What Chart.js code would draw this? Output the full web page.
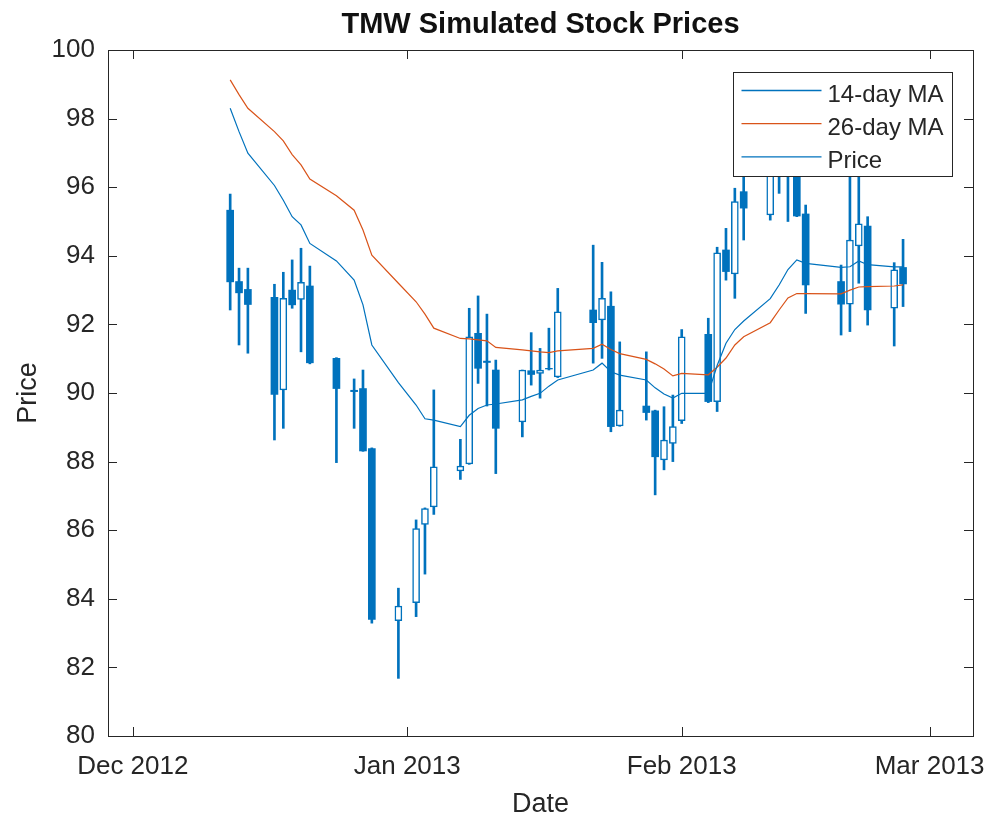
<!DOCTYPE html>
<html>
<head>
<meta charset="utf-8">
<title>TMW Simulated Stock Prices</title>
<script src="https://cdn.jsdelivr.net/npm/chart.js@4.4.1/dist/chart.umd.min.js"></script>
<style>
  html, body { margin: 0; background: #fff; }
  canvas { display: block; }
</style>
</head>
<body>
<canvas id="chart-candles" width="991" height="816"></canvas>
<script>
// ---- Data ----
const tradeDates = [
  '2012-12-12', '2012-12-13', '2012-12-14', '2012-12-17', '2012-12-18', '2012-12-19', '2012-12-20',
  '2012-12-21', '2012-12-24', '2012-12-26', '2012-12-27', '2012-12-28', '2012-12-31',
  '2013-01-02', '2013-01-03', '2013-01-04', '2013-01-07', '2013-01-08', '2013-01-09', '2013-01-10',
  '2013-01-11', '2013-01-14', '2013-01-15', '2013-01-16', '2013-01-17', '2013-01-18', '2013-01-22',
  '2013-01-23', '2013-01-24', '2013-01-25', '2013-01-28', '2013-01-29', '2013-01-30', '2013-01-31',
  '2013-02-01', '2013-02-04', '2013-02-05', '2013-02-06', '2013-02-07', '2013-02-08', '2013-02-11',
  '2013-02-12', '2013-02-13', '2013-02-14', '2013-02-15', '2013-02-19', '2013-02-20', '2013-02-21',
  '2013-02-22', '2013-02-25', '2013-02-26',
];

const openP = [
  95.33, 93.25, 93.02, 92.79, 90.09, 93.00, 92.73, 93.12, 91.01, 90.08, 90.13, 88.38, 83.36,
  83.89, 86.17, 86.68, 87.73, 87.93, 91.74, 90.93, 90.67, 89.16, 90.65, 90.57, 90.72, 90.47, 92.42,
  92.13, 92.53, 89.04, 89.62, 89.48, 88.05, 88.53,
  89.19, 91.71, 89.75, 94.17, 93.47, 95.87, 95.19, 96.50, 97.20, 96.90, 95.22, 93.25, 92.59, 94.29,
  94.87, 92.47, 93.66,
];
const highP = [
  95.80, 93.64, 93.64, 93.17, 93.52, 93.88, 94.22, 93.70, 91.03, 90.41, 90.67, 88.40, 84.31,
  86.30, 86.65, 90.09, 88.65, 92.47, 92.83, 92.30, 90.96, 90.67, 91.76, 91.30, 91.89, 93.05, 94.31,
  93.81, 92.95, 91.49, 91.20, 89.50, 89.60, 89.94,
  91.85, 92.18, 94.25, 94.80, 95.97, 96.60, 97.30, 97.60, 97.60, 97.20, 95.48, 93.73, 96.70, 96.80,
  95.14, 93.80, 94.48,
];
const lowP = [
  92.42, 91.40, 91.16, 88.63, 88.97, 92.47, 91.20, 90.85, 87.97, 88.97, 88.30, 83.29, 81.68,
  83.48, 84.72, 86.46, 87.48, 87.92, 90.28, 89.62, 87.65, 88.72, 90.23, 89.85, 90.67, 90.45, 90.87,
  91.01, 88.87, 89.03, 89.21, 87.03, 87.76, 88.00,
  89.11, 89.72, 89.46, 93.29, 92.76, 94.46, 95.04, 95.82, 95.00, 95.14, 92.32, 91.69, 91.79, 93.20,
  91.98, 91.37, 92.52,
];
const closeP = [
  93.24, 92.92, 92.58, 89.96, 92.76, 92.57, 93.23, 90.88, 90.13, 90.04, 88.31, 83.40, 83.79,
  86.05, 86.63, 87.85, 87.87, 91.64, 90.72, 90.89, 88.97, 90.67, 90.54, 90.67, 90.70, 92.37, 92.05,
  92.76, 89.02, 89.50, 89.43, 88.14, 88.63, 89.02,
  91.64, 89.75, 94.09, 93.54, 95.58, 95.39, 96.90, 97.10, 96.70, 95.16, 93.15, 92.59, 94.46, 94.93,
  92.42, 93.59, 93.18,
];

const ma14 = [
  98.30, 97.62, 96.99, 96.05, 95.62, 95.14, 94.90, 94.36, 93.85, 93.29, 92.57, 91.40, 90.30,
  89.65, 89.25, 89.21, 89.02, 89.35, 89.55, 89.65, 89.68, 89.80, 89.90, 89.99, 90.20, 90.38, 90.67,
  90.87, 90.62, 90.52, 90.38, 90.15, 89.97, 89.85,
  89.99, 89.99, 90.80, 91.45, 91.85, 92.10, 92.75, 93.15, 93.60, 93.88, 93.78, 93.66, 93.68, 93.85,
  93.74, 93.68, 93.68,
];
const ma26 = [
  99.13, 98.70, 98.30, 97.62, 97.35, 96.95, 96.65, 96.24, 95.75, 95.33, 94.75, 94.02, 93.20,
  92.66, 92.30, 91.89, 91.59, 91.58, 91.55, 91.52, 91.33, 91.26, 91.23, 91.20, 91.18, 91.23, 91.30,
  91.42, 91.27, 91.15, 90.98, 90.85, 90.70, 90.50,
  90.57, 90.53, 90.75, 91.02, 91.40, 91.64, 92.05, 92.42, 92.77, 92.90, 92.90, 92.89, 93.00, 93.09,
  93.10, 93.12, 93.15,
];

const seriesNames = ['14-day MA', '26-day MA', 'Price'];
const tickDates = ['2012-12-01', '2013-01-01', '2013-02-01', '2013-03-01'];
const tickLabels = ['Dec 2012', 'Jan 2013', 'Feb 2013', 'Mar 2013'];
const yTicks = [80, 82, 84, 86, 88, 90, 92, 94, 96, 98, 100];

// ---- Helpers ----
const BLUE = '#0072BD';
const ORANGE = '#D95319';
const INK = '#262626';
const FONT = '"Liberation Sans", Arial, Helvetica, sans-serif';

// dates become day numbers counted from 1 Dec 2012, so a linear axis can place them
const ORIGIN = Date.UTC(2012, 11, 1);
function dayNum(s) {
  const [y, m, d] = s.split('-').map(Number);
  return (Date.UTC(y, m - 1, d) - ORIGIN) / 86400000;
}

const xs = tradeDates.map(dayNum);
const tickDays = tickDates.map(dayNum);

const wicks = xs.map((x, i) => ({ x, y: [lowP[i], highP[i]] }));
const downBodies = [];
const upBodies = [];
xs.forEach((x, i) => {
  const body = { x, y: [openP[i], closeP[i]] };
  if (closeP[i] < openP[i]) downBodies.push(body);
  else upBodies.push(body);
});

// inward tick marks and the box round the axes
const axesFrame = {
  id: 'axesFrame',
  afterDraw(chart) {
    const { ctx, chartArea: a, scales } = chart;
    const len = 9;
    ctx.save();
    ctx.strokeStyle = INK;
    ctx.lineWidth = 1;
    ctx.beginPath();
    scales.x.ticks.forEach((t) => {
      const px = Math.round(scales.x.getPixelForValue(t.value)) + 0.5;
      ctx.moveTo(px, a.bottom); ctx.lineTo(px, a.bottom - len);
      ctx.moveTo(px, a.top); ctx.lineTo(px, a.top + len);
    });
    scales.y.ticks.forEach((t) => {
      const py = Math.round(scales.y.getPixelForValue(t.value)) + 0.5;
      ctx.moveTo(a.left, py); ctx.lineTo(a.left + len, py);
      ctx.moveTo(a.right, py); ctx.lineTo(a.right - len, py);
    });
    ctx.stroke();
    ctx.strokeRect(Math.round(a.left) + 0.5, Math.round(a.top) + 0.5,
      Math.round(a.right - a.left), Math.round(a.bottom - a.top));
    ctx.restore();
  },
};

// boxed legend in the upper right, drawn over the candles
const boxLegend = {
  id: 'boxLegend',
  afterDatasetsDraw(chart) {
    const { ctx, chartArea: a } = chart;
    const colors = [BLUE, ORANGE, BLUE];
    const w = 219, h = 104;
    const left = Math.round(a.right - 21 - w) + 0.5;
    const top = Math.round(a.top + 22) + 0.5;
    ctx.save();
    ctx.fillStyle = '#fff';
    ctx.fillRect(left, top, w, h);
    ctx.strokeStyle = INK;
    ctx.lineWidth = 1;
    ctx.strokeRect(left, top, w, h);
    ctx.font = `24px ${FONT}`;
    ctx.textBaseline = 'alphabetic';
    seriesNames.forEach((name, i) => {
      const y = top + 18 + i * 33.2;
      ctx.strokeStyle = colors[i];
      ctx.lineWidth = 1.3;
      ctx.beginPath();
      ctx.moveTo(left + 8, y);
      ctx.lineTo(left + 88, y);
      ctx.stroke();
      ctx.fillStyle = INK;
      ctx.fillText(name, left + 94, y + 11.5);
    });
    ctx.restore();
  },
};

new Chart(document.getElementById('chart-candles'), {
  type: 'bar',
  data: {
    datasets: [
      {
        type: 'line',
        label: seriesNames[0],
        data: xs.map((x, i) => ({ x, y: ma14[i] })),
        borderColor: BLUE,
        borderWidth: 1.2,
        pointRadius: 0,
        tension: 0,
        order: 0,
      },
      {
        type: 'line',
        label: seriesNames[1],
        data: xs.map((x, i) => ({ x, y: ma26[i] })),
        borderColor: ORANGE,
        borderWidth: 1.2,
        pointRadius: 0,
        tension: 0,
        order: 0,
      },
      {
        label: 'down',
        data: downBodies,
        backgroundColor: BLUE,
        borderColor: BLUE,
        borderWidth: 0,
        barThickness: 7,
        grouped: false,
        order: 1,
      },
      {
        label: 'up',
        data: upBodies,
        backgroundColor: '#fff',
        borderColor: BLUE,
        borderWidth: 1.5,
        borderSkipped: false,
        barThickness: 7,
        grouped: false,
        order: 1,
      },
      {
        label: seriesNames[2],
        data: wicks,
        backgroundColor: BLUE,
        borderWidth: 0,
        barThickness: 2,
        grouped: false,
        order: 2,
      },
    ],
  },
  options: {
    responsive: false,
    animation: false,
    events: [],
    layout: { padding: { left: 0, right: 18, top: 0, bottom: 0 } },
    plugins: {
      legend: { display: false },
      tooltip: { enabled: false },
      title: {
        display: true,
        fullSize: false,
        text: 'TMW Simulated Stock Prices',
        color: '#111',
        font: { family: FONT, size: 29, weight: 'bold' },
        padding: { top: 8, bottom: 7.2 },
      },
    },
    scales: {
      x: {
        type: 'linear',
        offset: false,
        min: -2.8,
        max: 94.9,
        grid: { display: false, drawTicks: false, offset: false },
        border: { display: false },
        afterBuildTicks: (scale) => { scale.ticks = tickDays.map((v) => ({ value: v })); },
        afterFit: (scale) => {
          scale.height = 80;
          scale.paddingLeft = 0;
          scale.paddingRight = 0;
        },
        ticks: {
          color: INK,
          font: { family: FONT, size: 26 },
          padding: 15,
          maxRotation: 0,
          autoSkip: false,
          callback: (v) => tickLabels[tickDays.indexOf(v)],
        },
        title: {
          display: true,
          text: 'Date',
          color: INK,
          font: { family: FONT, size: 27 },
          padding: { top: 0, bottom: -5 },
        },
      },
      y: {
        min: 80,
        max: 100,
        grid: { display: false, drawTicks: false },
        border: { display: false },
        afterBuildTicks: (scale) => { scale.ticks = yTicks.map((v) => ({ value: v })); },
        afterFit: (scale) => { scale.width = 108; },
        ticks: {
          color: INK,
          font: { family: FONT, size: 26 },
          padding: 13,
        },
        title: {
          display: true,
          text: 'Price',
          color: INK,
          font: { family: FONT, size: 27 },
          padding: { top: 12, bottom: 0 },
        },
      },
    },
  },
  plugins: [boxLegend, axesFrame],
});
</script>
</body>
</html>
